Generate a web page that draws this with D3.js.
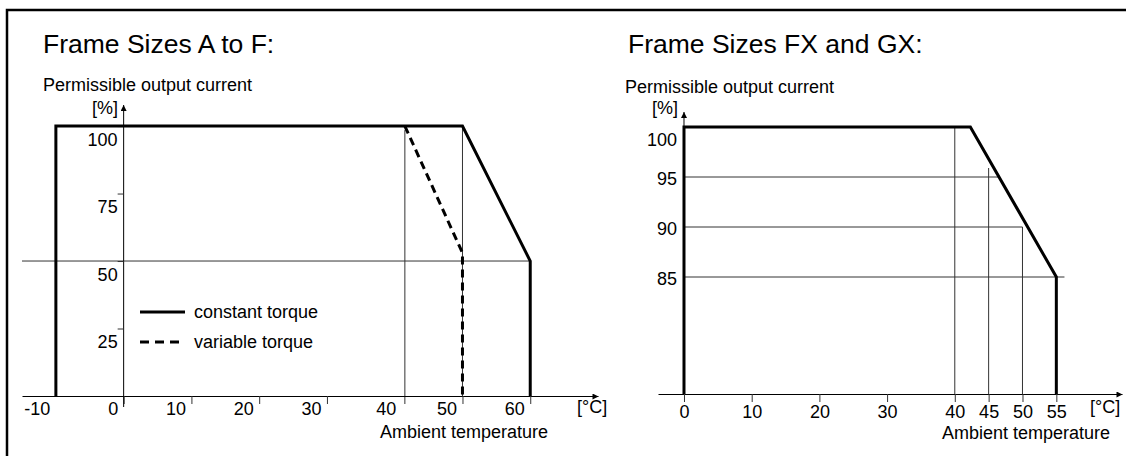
<!DOCTYPE html>
<html>
<head>
<meta charset="utf-8">
<script src="https://cdn.jsdelivr.net/npm/d3@7"></script>
<style>
  body { margin: 0; background: #fff; }
  text { font-family: "Liberation Sans", Arial, sans-serif; fill: #000; }
  .title { font-size: 26.5px; }
  .lbl { font-size: 18px; }
  .thin { stroke: #333; stroke-width: 1; fill: none; }
  .thick { stroke: #000; stroke-width: 3; fill: none; }
</style>
</head>
<body>
<div id="chart"></div>
<script>
// chart size matches the photo window
var svgWidth = 1126;
var svgHeight = 456;

// Frame sizes A to F
var leftTicksX = [-10, 0, 10, 20, 30, 40, 50, 60];
var leftTicksY = [25, 50, 75, 100];
var constTemp = [-10, -10, 50, 60, 60];
var constPct = [0, 100, 100, 50, 0];
var varTemp = [41.5, 50, 50];
var varPct = [100, 53, 0];

// Frame sizes FX and GX
var rightTicksX = [0, 10, 20, 30, 40, 45, 50, 55];
var rightTicksY = [85, 90, 95, 100];
var fxTemp = [0, 0, 42.3, 55, 55];
var fxPct = [0, 100, 100, 85, 0];

var svg = d3.select("#chart")
  .append("svg")
  .attr("width", svgWidth)
  .attr("height", svgHeight);

// arrow head for the axes
svg.append("defs").append("marker")
  .attr("id", "arrow")
  .attr("viewBox", "0 0 10 10")
  .attr("refX", 10)
  .attr("refY", 5)
  .attr("markerWidth", 8)
  .attr("markerHeight", 6)
  .attr("markerUnits", "userSpaceOnUse")
  .attr("orient", "auto")
  .append("path")
  .attr("d", "M0,0L10,5L0,10Z")
  .attr("fill", "#000");

// page frame
svg.append("path")
  .attr("d", "M7,456V10H1126")
  .attr("fill", "none")
  .attr("stroke", "#000")
  .attr("stroke-width", 2.5);

function zip(xs, ys) {
  return xs.map(function(d, i) { return [d, ys[i]]; });
}

// plain hyphen for negatives, like the original print
var plain = d => String(d);

// ---------- left chart ----------
var xL = d3.scaleLinear().domain([-15, 70]).range([22, 598]);
var yL = d3.scaleLinear().domain([0, 107.8]).range([396, 105]);
var lineL = d3.line().x(d => xL(d[0])).y(d => yL(d[1]));

var gL = svg.append("g");

gL.append("text").attr("class", "title").attr("x", 43).attr("y", 53).text("Frame Sizes A to F:");
gL.append("text").attr("class", "lbl").attr("x", 43).attr("y", 91).text("Permissible output current");
gL.append("text").attr("class", "lbl").attr("x", 118).attr("y", 114).attr("text-anchor", "end").text("[%]");

// helper lines (the one at 41.5 also acts as the 40 tick)
gL.append("path").attr("class", "thin").attr("d", lineL([[-15, 50], [60, 50]]));
gL.append("path").attr("class", "thin").attr("d", lineL([[41.5, 98.5], [41.5, 0]]) + "v8");
gL.append("path").attr("class", "thin").attr("d", lineL([[50, 100], [50, 0]]));

// x axis
var xAxisL = gL.append("g")
  .attr("transform", `translate(0, ${yL(0)})`)
  .call(d3.axisBottom(xL).tickValues(leftTicksX).tickSizeInner(8).tickSizeOuter(0).tickFormat(plain));
xAxisL.select(".domain").attr("stroke", "#000").attr("marker-end", "url(#arrow)");
xAxisL.selectAll(".tick line").attr("stroke", "#333")
  .attr("opacity", d => (d === -10 || d === 40) ? 0 : 1);
xAxisL.selectAll(".tick text")
  .attr("class", "lbl").attr("font-size", null).attr("font-family", null)
  .attr("text-anchor", "end").attr("x", d => d === 40 ? 1 : -6).attr("y", 19).attr("dy", 0);

// y axis
var yAxisL = gL.append("g")
  .attr("transform", `translate(${xL(0)}, 0)`)
  .call(d3.axisLeft(yL).tickValues(leftTicksY).tickSizeInner(6).tickSizeOuter(0));
yAxisL.select(".domain").attr("stroke", "#000")
  .attr("d", `M0,${yL(0) + 11}V${yL(107.8)}`).attr("marker-end", "url(#arrow)");
yAxisL.selectAll(".tick line").attr("stroke", "#333");
yAxisL.selectAll(".tick text")
  .attr("class", "lbl").attr("font-size", null).attr("font-family", null)
  .attr("text-anchor", "end").attr("x", -6).attr("y", 19).attr("dy", 0);

gL.append("text").attr("class", "lbl").attr("x", 577).attr("y", 413).text("[°C]");
gL.append("text").attr("class", "lbl").attr("x", 380).attr("y", 438).text("Ambient temperature");

// curves
gL.append("path").attr("class", "thick").attr("d", lineL(zip(constTemp, constPct)));
gL.append("path").attr("class", "thick").attr("stroke-dasharray", "8,5").attr("d", lineL(zip(varTemp, varPct)));

// legend
var legend = [
  { name: "constant torque", dash: null },
  { name: "variable torque", dash: "9,6" }
];
var lg = gL.selectAll(".legend")
  .data(legend)
  .enter()
  .append("g")
  .attr("transform", (d, i) => `translate(140, ${312 + i * 30})`);
lg.append("line").attr("x1", 0).attr("x2", 45).attr("stroke", "#000").attr("stroke-width", 3)
  .attr("stroke-dasharray", d => d.dash);
lg.append("text").attr("class", "lbl").attr("x", 54).attr("y", 6).text(d => d.name);

// ---------- right chart ----------
var xR = d3.scaleLinear().domain([-3.84, 64.7]).range([658, 1122]);
var yR = d3.scaleLinear().domain([0, 85, 100, 101.5]).range([394, 277, 127, 112]);
var lineR = d3.line().x(d => xR(d[0])).y(d => yR(d[1]));

var gR = svg.append("g");

gR.append("text").attr("class", "title").attr("x", 628).attr("y", 53).text("Frame Sizes FX and GX:");
gR.append("text").attr("class", "lbl").attr("x", 625).attr("y", 93).text("Permissible output current");
gR.append("text").attr("class", "lbl").attr("x", 678).attr("y", 114).attr("text-anchor", "end").text("[%]");

// helper grid
gR.append("path").attr("class", "thin").attr("d", lineR([[0, 95], [46.5, 95]]));
gR.append("path").attr("class", "thin").attr("d", lineR([[0, 90], [50, 90]]));
gR.append("path").attr("class", "thin").attr("d", lineR([[0, 85], [56.2, 85]]));
gR.append("path").attr("class", "thin").attr("d", lineR([[40, 100], [40, 0]]));
gR.append("path").attr("class", "thin").attr("d", lineR([[45, 95.9], [45, 0]]));
gR.append("path").attr("class", "thin").attr("d", lineR([[50, 90], [50, 0]]));

var xAxisR = gR.append("g")
  .attr("transform", `translate(0, ${yR(0)})`)
  .call(d3.axisBottom(xR).tickValues(rightTicksX).tickSizeInner(8).tickSizeOuter(0).tickFormat(plain));
xAxisR.select(".domain").attr("stroke", "#000").attr("marker-end", "url(#arrow)");
xAxisR.selectAll(".tick line").attr("stroke", "#333");
xAxisR.selectAll(".tick text")
  .attr("class", "lbl").attr("font-size", null).attr("font-family", null)
  .attr("y", 24).attr("dy", 0);

var yAxisR = gR.append("g")
  .attr("transform", `translate(${xR(0)}, 0)`)
  .call(d3.axisLeft(yR).tickValues(rightTicksY).tickSize(0));
yAxisR.select(".domain").attr("stroke", "#000")
  .attr("d", `M0,${yR(0)}V${yR(101.5)}`).attr("marker-end", "url(#arrow)");
yAxisR.selectAll(".tick text")
  .attr("class", "lbl").attr("font-size", null).attr("font-family", null)
  .attr("text-anchor", "end").attr("x", -7)
  .attr("y", d => d === 100 ? 18 : 7).attr("dy", 0);

gR.append("text").attr("class", "lbl").attr("x", 1090).attr("y", 413).text("[°C]");
gR.append("text").attr("class", "lbl").attr("x", 942).attr("y", 439).text("Ambient temperature");

gR.append("path").attr("class", "thick").attr("d", lineR(zip(fxTemp, fxPct)));
</script>
</body>
</html>
